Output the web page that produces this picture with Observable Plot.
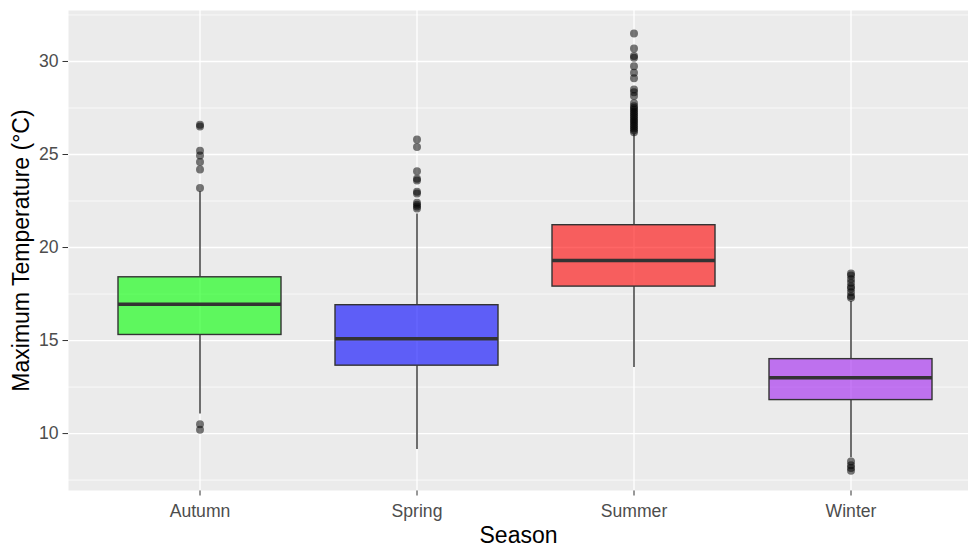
<!DOCTYPE html>
<html>
<head>
<meta charset="utf-8">
<script src="https://cdn.jsdelivr.net/npm/d3@7"></script>
<script src="https://cdn.jsdelivr.net/npm/@observablehq/plot@0.6"></script>
<style>
  html, body { margin: 0; padding: 0; background: #ffffff; }
  #chart svg g[aria-label^="x-axis"] text,
  #chart svg g[aria-label^="y-axis"] text { fill: #4d4d4d; }
</style>
</head>
<body>
<div id="chart"></div>
<script>
// ---- data ----
const seasons = ["Autumn", "Spring", "Summer", "Winter"];
const seasonColors = ["#00FF00", "#0000FF", "#FF0000", "#A020F0"];
const q1 = [15.3, 13.65, 17.9, 11.8];
const median = [16.95, 15.1, 19.3, 13.0];
const q3 = [18.4, 16.9, 21.2, 14.0];
const whiskerLow = [11.05, 9.15, 13.55, 8.7];
const whiskerHigh = [23.0, 21.8, 26.1, 17.1];

const outliersAutumn = [26.6, 26.5, 25.2, 24.95, 24.6, 24.2, 23.2, 10.5, 10.2];
const outliersSpring = [25.8, 25.4, 24.1, 23.7, 23.6, 23.0, 22.9, 22.4, 22.3, 22.2, 22.1];
const outliersSummer = [31.5, 30.7, 30.3, 30.2, 29.75, 29.4, 29.1, 28.5, 28.35, 28.15,
  27.75, 27.6, 27.5, 27.4, 27.3, 27.2, 27.1, 27.0, 26.9, 26.8, 26.7, 26.6, 26.5, 26.4, 26.3, 26.2];
const outliersWinter = [18.6, 18.5, 18.3, 18.1, 17.9, 17.8, 17.6, 17.4, 17.3, 8.5, 8.3, 8.15, 8.0];

const yMajorTicks = [10, 15, 20, 25, 30];
const yMinorTicks = [7.5, 12.5, 17.5, 22.5, 27.5, 32.5];
const xTitle = "Season";
const yTitle = "Maximum Temperature (°C)";

// ---- tables built from the arrays ----
const boxes = seasons.map((s, i) => ({
  season: s, q1: q1[i], median: median[i], q3: q3[i], lo: whiskerLow[i], hi: whiskerHigh[i]
}));
const outlierLists = [outliersAutumn, outliersSpring, outliersSummer, outliersWinter];
const outliers = seasons.flatMap((s, i) => outlierLists[i].map(v => ({season: s, value: v})));

const W = 968, H = 548;
const mL = 68, mT = 10, mB = 58;

const chart = Plot.plot({
  width: W,
  height: H,
  marginLeft: mL,
  marginRight: 0,
  marginTop: mT,
  marginBottom: mB,
  style: {
    fontFamily: "'Liberation Sans', Arial, sans-serif",
    fontSize: "17.6px",
    color: "#333333",
    background: "#ffffff",
    overflow: "hidden"
  },
  x: {
    type: "band",
    domain: seasons,
    range: [mL, mL + 4.2 * 217.5],
    paddingInner: 0.25,
    paddingOuter: 0.225,
    align: 0.5,
    label: null,
    tickSize: 5.5,
    tickPadding: 8
  },
  y: {
    domain: [6.94, 32.74],
    ticks: yMajorTicks,
    tickFormat: d => String(d),
    label: null,
    tickSize: 5.5,
    tickPadding: 4.4
  },
  color: { domain: seasons, range: seasonColors },
  marks: [
    Plot.frame({fill: "#EBEBEB", stroke: null}),
    Plot.ruleY(yMinorTicks, {stroke: "#ffffff", strokeWidth: 0.7}),
    Plot.ruleY(yMajorTicks, {stroke: "#ffffff", strokeWidth: 1.3}),
    Plot.ruleX(seasons, {x: d => d, stroke: "#ffffff", strokeWidth: 1.3}),
    Plot.ruleX(boxes, {x: "season", y1: "lo", y2: "q1", stroke: "#333333", strokeWidth: 1.4}),
    Plot.ruleX(boxes, {x: "season", y1: "q3", y2: "hi", stroke: "#333333", strokeWidth: 1.4}),
    Plot.barY(boxes, {x: "season", y1: "q1", y2: "q3", fill: "season", fillOpacity: 0.6,
      stroke: "#333333", strokeWidth: 1.4}),
    Plot.tickY(boxes, {x: "season", y: "median", stroke: "#333333", strokeWidth: 3.5}),
    Plot.dot(outliers, {x: "season", y: "value", r: 4, fill: "#000000", fillOpacity: 0.52, stroke: null}),
    Plot.text([xTitle], {frameAnchor: "bottom", dy: 52, textAnchor: "middle", fontSize: 23, fill: "#000000", text: d => d}),
    Plot.text([yTitle], {frameAnchor: "left", dx: -47, textAnchor: "middle", rotate: -90, fontSize: 23, fill: "#000000", text: d => d})
  ]
});

document.getElementById("chart").appendChild(chart);
</script>
</body>
</html>
